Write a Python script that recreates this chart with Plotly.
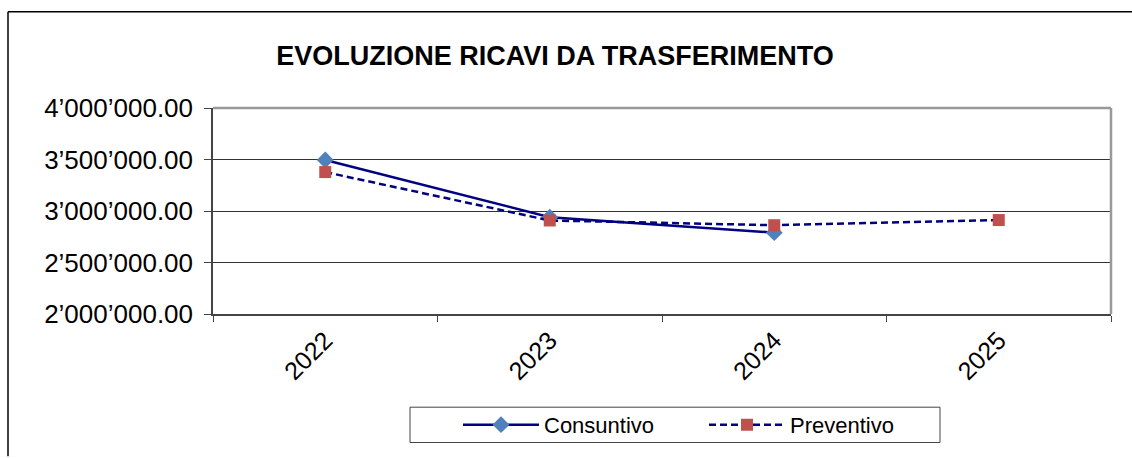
import plotly.graph_objects as go

years = ["2022", "2023", "2024", "2025"]
consuntivo = [3495000, 2940000, 2790000, None]
preventivo = [3378000, 2908000, 2862000, 2912000]
y_ticks = [2000000, 2500000, 3000000, 3500000, 4000000]
y_tick_labels = ["2’000’000.00", "2’500’000.00", "3’000’000.00", "3’500’000.00", "4’000’000.00"]

W, H = 1132, 458
L, R, T, B = 213, 21, 108, 140
PW, PH = W - L - R, H - T - B


def px_x(x):
    return (x - L) / PW


def px_y(y):
    return (H - B - y) / PH


fig = go.Figure()
fig.add_trace(go.Scatter(
    x=years, y=consuntivo, name="Consuntivo", mode="lines+markers",
    line=dict(color="#000080", width=2.5),
    marker=dict(symbol="diamond", size=13, color="#4F81BD"),
))
fig.add_trace(go.Scatter(
    x=years, y=preventivo, name="Preventivo", mode="lines+markers",
    line=dict(color="#000080", width=2.5, dash="7px,4px"),
    marker=dict(symbol="square", size=12, color="#C0504D"),
))

fig.update_layout(
    width=W, height=H,
    margin=dict(l=L, r=R, t=T, b=B, pad=0),
    paper_bgcolor="white", plot_bgcolor="white",
    font=dict(family="Liberation Sans, Arial", color="black"),
    title=dict(text="<b>EVOLUZIONE RICAVI DA TRASFERIMENTO</b>",
               x=555 / W, xanchor="center", y=1 - 56 / H, yanchor="middle",
               font=dict(size=27, color="black")),
    showlegend=True,
    legend=dict(orientation="h", x=px_x(458), xanchor="left", y=px_y(431), yanchor="middle",
                borderwidth=0, font=dict(size=22),
                entrywidth=155, itemwidth=76, bgcolor="rgba(0,0,0,0)"),
    xaxis=dict(
        type="category", range=[-0.5, 3.5], showgrid=False,
        showline=True, linecolor="#444", linewidth=1.5,
        ticks="outside", ticklen=6, tickcolor="#444", tickson="boundaries",
        tickangle=-45, tickfont=dict(size=25),
    ),
    yaxis=dict(
        range=[2000000, 4000000], tickmode="array", tickvals=y_ticks, ticktext=y_tick_labels,
        tickfont=dict(size=26), showgrid=True, gridcolor="#333", gridwidth=1,
        showline=True, linecolor="#444", linewidth=1.5,
        ticks="outside", ticklen=7, tickcolor="#444", zeroline=False,
        ticklabelstandoff=6,
    ),
)

# plot-area frame (top & right in gray)
fig.add_shape(type="line", xref="paper", yref="paper", x0=0, x1=1, y0=1, y1=1,
              line=dict(color="#999", width=2.5))
fig.add_shape(type="line", xref="paper", yref="paper", x0=1, x1=1, y0=0, y1=1,
              line=dict(color="#999", width=2.5))
# outer chart border (top & left)
fig.add_shape(type="line", xref="paper", yref="paper",
              x0=px_x(8), x1=px_x(W + 5), y0=px_y(10), y1=px_y(10),
              line=dict(color="black", width=1.5))
fig.add_shape(type="line", xref="paper", yref="paper",
              x0=px_x(8), x1=px_x(8), y0=px_y(10), y1=px_y(H + 5),
              line=dict(color="black", width=1.5))
# legend box
fig.add_shape(type="rect", xref="paper", yref="paper",
              x0=px_x(410), x1=px_x(940), y0=px_y(413), y1=px_y(449),
              line=dict(color="#444", width=1), fillcolor="rgba(0,0,0,0)")

fig.write_html("out.html", config={"displayModeBar": False},
               post_script="document.body.style.margin='0';")
